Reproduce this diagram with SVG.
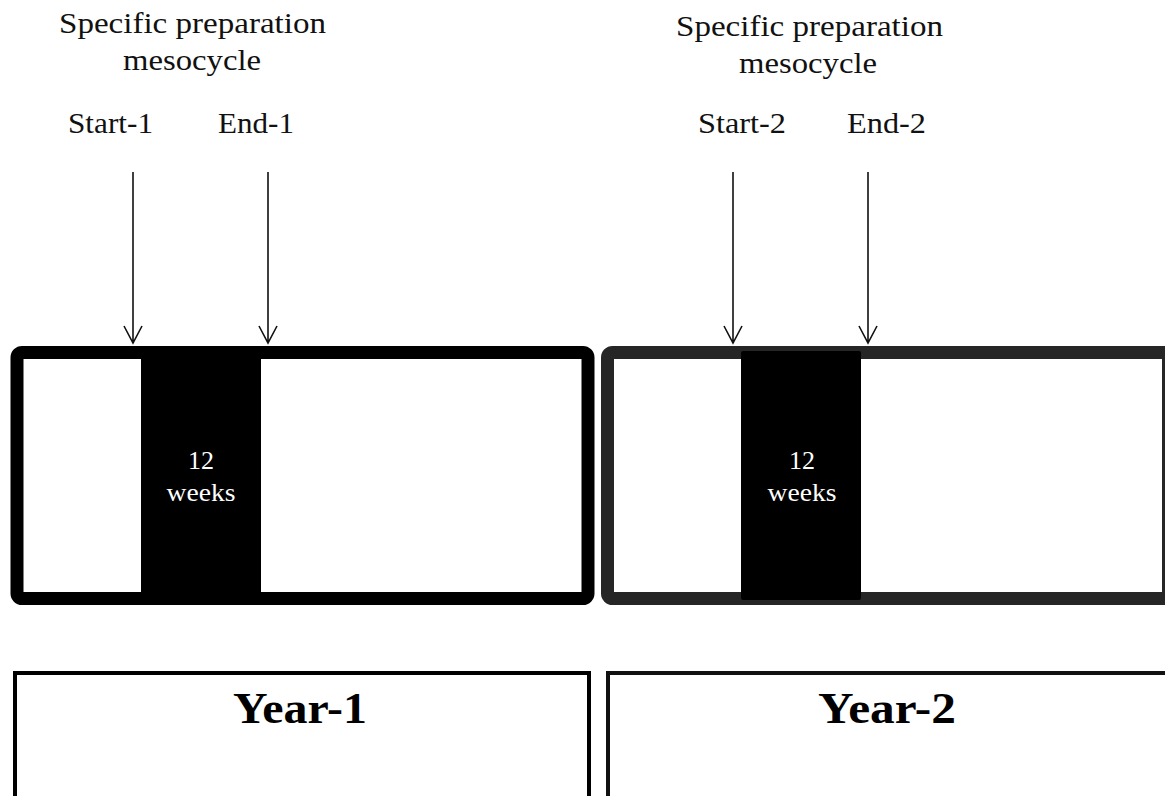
<svg xmlns="http://www.w3.org/2000/svg" width="1165" height="796" viewBox="0 0 1165 796">
<style>
.lbl{font-family:"Liberation Serif","Times New Roman",serif;font-size:30px;fill:#111;}
.wk{font-family:"Liberation Serif","Times New Roman",serif;font-size:26px;fill:#fff;text-anchor:middle;}
.yr{font-family:"Liberation Serif","Times New Roman",serif;font-size:45px;font-weight:bold;fill:#000;text-anchor:middle;}
.arr{stroke:#111;stroke-width:1.6;fill:none;}
</style>
<rect width="1165" height="796" fill="#fff"/>
<g id="labels-1">
<text class="lbl" x="59" y="33" textLength="267" lengthAdjust="spacingAndGlyphs">Specific preparation</text>
<text class="lbl" x="123" y="70" textLength="138" lengthAdjust="spacingAndGlyphs">mesocycle</text>
<text class="lbl" x="68" y="133" textLength="85" lengthAdjust="spacingAndGlyphs">Start-1</text>
<text class="lbl" x="218" y="133" textLength="76" lengthAdjust="spacingAndGlyphs">End-1</text>
</g>
<g id="labels-2">
<text class="lbl" x="676" y="36" textLength="267" lengthAdjust="spacingAndGlyphs">Specific preparation</text>
<text class="lbl" x="739" y="73" textLength="138" lengthAdjust="spacingAndGlyphs">mesocycle</text>
<text class="lbl" x="698" y="133" textLength="88" lengthAdjust="spacingAndGlyphs">Start-2</text>
<text class="lbl" x="847" y="133" textLength="79" lengthAdjust="spacingAndGlyphs">End-2</text>
</g>
<g id="box-1">
<rect x="17" y="352.5" width="571" height="246" rx="5" fill="#fff" stroke="#000" stroke-width="13"/>
<rect x="141" y="355" width="120" height="240" fill="#000"/>
<text class="wk" x="201" y="469">12</text>
<text class="wk" x="201" y="501" textLength="69" lengthAdjust="spacingAndGlyphs">weeks</text>
</g>
<g id="box-2">
<rect x="607.5" y="352.5" width="561" height="246" rx="5" fill="#fff" stroke="#262626" stroke-width="13"/>
<rect x="741" y="351" width="120" height="249" rx="2" fill="#000"/>
<text class="wk" x="802" y="469">12</text>
<text class="wk" x="802" y="501" textLength="69" lengthAdjust="spacingAndGlyphs">weeks</text>
</g>
<g id="year-1">
<rect x="15" y="673" width="574" height="200" fill="#fff" stroke="#000" stroke-width="4"/>
<text class="yr" x="300" y="723" textLength="134" lengthAdjust="spacingAndGlyphs">Year-1</text>
</g>
<g id="year-2">
<rect x="608" y="673" width="562" height="200" fill="#fff" stroke="#111" stroke-width="4"/>
<text class="yr" x="887" y="723" textLength="138" lengthAdjust="spacingAndGlyphs">Year-2</text>
</g>
<g id="connectors">
<path class="arr" d="M133 172V343M124 326L133 343L142 326"/>
<path class="arr" d="M268 172V343M259 326L268 343L277 326"/>
<path class="arr" d="M733 172V343M724 326L733 343L742 326"/>
<path class="arr" d="M868 172V343M859 326L868 343L877 326"/>
</g>
</svg>
